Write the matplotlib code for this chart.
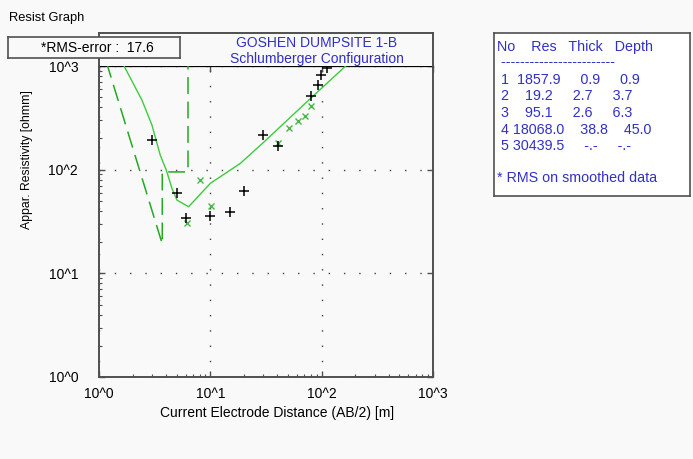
import matplotlib.pyplot as plt
from matplotlib.ticker import FixedLocator, NullFormatter

plt.rcParams['font.family'] = ['Liberation Sans', 'DejaVu Sans']

W, H = 693, 459

# field data: AB/2 [m] and apparent resistivity [ohmm]
obs_ab2 = [3.0, 5.0, 6.08, 10.0, 15.1, 20.2, 30.0, 40.7, 80.1, 92.0, 99.4, 111.0]
obs_rho = [192, 59.6, 34.0, 35.5, 39.3, 62.2, 214, 170, 514, 656, 819, 949]

# smoothed data
smooth_ab2 = [6.11, 8.13, 10.1, 40.7, 50.4, 61.1, 70.7, 80.1]
smooth_rho = [30.4, 79.5, 44.6, 180, 254, 295, 331, 414]

# calculated curve for the model
calc_ab2 = [1.26, 1.69, 2.43, 2.99, 3.55, 4.02, 4.52, 5.01, 6.38, 10.0, 18.6, 30.0, 79.6, 164, 251]
calc_rho = [1820, 986, 469, 269, 138, 99.1, 66.1, 50.9, 43.9, 73.8, 115, 183, 488, 998, 1514]

# layered model
layer_no = [1, 2, 3, 4, 5]
layer_res = [1857.9, 19.2, 95.1, 18068.0, 30439.5]
layer_thick = [0.9, 2.7, 2.6, 38.8, None]
layer_depth = [0.9, 3.7, 6.3, 45.0, None]

rms_error = 17.6
title1 = 'GOSHEN DUMPSITE 1-B'
title2 = 'Schlumberger Configuration'

bg = '#f9f9f9'
blue = '#3030c8'
frame = '#505050'


def fx(x):
    return x / W


def fy(y):
    return 1 - y / H


fig = plt.figure(figsize=(W / 100, H / 100), dpi=100, facecolor=bg)

# main plot
ax = fig.add_axes([fx(99), fy(377), (433 - 99) / W, (377 - 66) / H], facecolor=bg)
ax.set_xscale('log')
ax.set_yscale('log')
ax.set_xlim(1, 1000)
ax.set_ylim(1, 1000)

# model steps (dashed)
mx = [1.0, layer_depth[1], layer_depth[1], layer_depth[2], layer_depth[2]]
my = [layer_res[0], layer_res[1], layer_res[2], layer_res[2], layer_res[3]]
ax.plot(mx, my, color='#22aa22', lw=1.1, dashes=(11, 5), zorder=3)
ax.plot(calc_ab2, calc_rho, color='#3ccc3c', lw=1.0, zorder=3)
ax.plot(smooth_ab2, smooth_rho, 'x', color='#44bb44', ms=5, mew=1.0, zorder=4)
ax.plot(obs_ab2, obs_rho, '+', color='black', ms=7, mew=1.1, zorder=5)

dec = [1, 10, 100, 1000]
ax.xaxis.set_major_locator(FixedLocator(dec))
ax.yaxis.set_major_locator(FixedLocator(dec))
minors = [m * 10 ** e for e in range(3) for m in range(2, 10)]
ax.xaxis.set_minor_locator(FixedLocator(minors))
ax.yaxis.set_minor_locator(FixedLocator(minors))
ax.xaxis.set_minor_formatter(NullFormatter())
ax.yaxis.set_minor_formatter(NullFormatter())
ax.set_xticklabels(['10^0', '10^1', '10^2', '10^3'], fontsize=10)
ax.set_yticklabels(['10^0', '10^1', '10^2', '10^3'], fontsize=10)
ax.tick_params(which='both', direction='in', color=frame, top=True, right=True)
ax.tick_params(which='major', length=4, width=1)
ax.tick_params(which='minor', length=2.2, width=0.8, top=False, right=False)
ax.tick_params(axis='x', pad=7)
ax.tick_params(axis='y', pad=15)
ax.grid(True, which='major', color='#404040', lw=1.0, dashes=(1, 10))
for s in ['left', 'bottom', 'right']:
    ax.spines[s].set_color(frame)
    ax.spines[s].set_linewidth(1.4)
ax.spines['top'].set_color('black')
ax.spines['top'].set_linewidth(0.9)

fig.text(fx(277), fy(413), 'Current Electrode Distance (AB/2) [m]', fontsize=10,
         ha='center', va='center')
fig.text(fx(27), fy(160), 'Appar. Resistivity [ohmm]', fontsize=8.8,
         rotation=90, ha='center', va='center')

# title box
tax = fig.add_axes([fx(99), fy(66), (433 - 99) / W, (66 - 33) / H], facecolor=bg)
tax.set_xticks([])
tax.set_yticks([])
for s in tax.spines.values():
    s.set_color(frame)
    s.set_linewidth(1.4)
tax.spines['bottom'].set_visible(False)
fig.text(fx(317), fy(43), title1, fontsize=10, color=blue, ha='center', va='center')
fig.text(fx(317), fy(59), title2, fontsize=10, color=blue, ha='center', va='center')

# RMS box
rax = fig.add_axes([fx(8), fy(58), (180 - 8) / W, (58 - 37) / H], facecolor=bg)
rax.set_xticks([])
rax.set_yticks([])
for s in rax.spines.values():
    s.set_color(frame)
    s.set_linewidth(1.2)
rax.text(0.52, 0.5, f'*RMS-error :  {rms_error}', fontsize=10, ha='center', va='center',
         transform=rax.transAxes)

fig.text(fx(9), fy(18), 'Resist Graph', fontsize=9.3, va='center')

# layer table
bax = fig.add_axes([fx(494), fy(196), (690 - 494) / W, (196 - 33) / H], facecolor='white')
bax.set_xticks([])
bax.set_yticks([])
for s in bax.spines.values():
    s.set_color(frame)
    s.set_linewidth(1.2)


def col(v):
    return '     -.-' if v is None else f'{v:8.1f}'


tkw = dict(fontsize=10.3, color=blue, va='baseline', ha='left')
fig.text(fx(497), fy(51), 'No    Res   Thick   Depth', **tkw)
fig.text(fx(497), fy(66), ' ' + '-' * 24, **tkw)
for i, n in enumerate(layer_no):
    line = f' {n}{layer_res[i]:8.1f}{col(layer_thick[i])}{col(layer_depth[i])}'
    fig.text(fx(497), fy(84 + 16.5 * i), line, **tkw)
fig.text(fx(497), fy(182), '* RMS on smoothed data', **tkw)

fig.savefig('out.png', dpi=100, facecolor=bg)
